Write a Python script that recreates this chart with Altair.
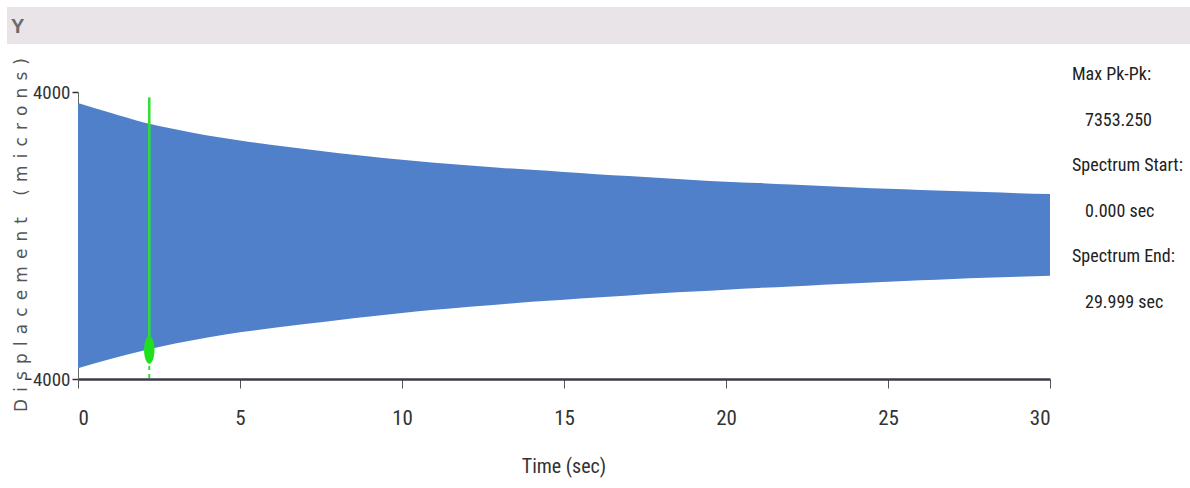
import altair as alt
import pandas as pd

# ---- data ----
time_s = list(range(0, 31))
upper_um = [3690, 3420, 3160, 2960, 2790, 2650, 2520, 2410, 2300, 2200, 2110,
            2030, 1960, 1890, 1830, 1770, 1710, 1660, 1600, 1550, 1500,
            1460, 1420, 1380, 1340, 1300, 1270, 1240, 1210, 1180, 1160]
lower_um = [-3700, -3440, -3210, -3010, -2840, -2700, -2580, -2470, -2360, -2260, -2160,
            -2070, -1990, -1920, -1850, -1790, -1730, -1670, -1610, -1560, -1510,
            -1460, -1420, -1370, -1330, -1290, -1250, -1210, -1180, -1150, -1120]

cursor_t = [2.2]
cursor_top = [3850]
cursor_val = [-3192]
axis_min = [-4000]

x_ticks = [0, 5, 10, 15, 20, 25, 30]
y_ticks = [-4000, 4000]

info_lines = ["Max Pk-Pk:", "7353.250", "Spectrum Start:", "0.000 sec",
              "Spectrum End:", "29.999 sec"]
info_indent = [False, True, False, True, False, True]

panel_title = "Y"
_sp = "\u00a0\u200a"
y_title = (_sp * 3).join(_sp.join(w) for w in ["Displacement", "(microns)"])
x_title = "Time (sec)"

# ---- layout ----
W, H = 972, 287
PAD_L, PAD_T = 78, 92
NARROW = "Liberation Sans Narrow, Roboto Condensed, Arial Narrow, Roboto, sans-serif"
BLUE = "#5080ca"
GREEN = "#2ee02e"

wave = pd.DataFrame({"t": time_s, "hi": upper_um, "lo": lower_um})
cur = pd.DataFrame({"t": cursor_t, "top": cursor_top, "v": cursor_val, "bot": axis_min})

xs = alt.Scale(domain=[0, 30], nice=False, zero=False)
ys = alt.Scale(domain=[-4000, 4000], nice=False, zero=False)

x_axis = alt.Axis(values=x_ticks, title=None, grid=False, domainColor="#3b3b4b",
                  domainWidth=2.5, tickColor="#555", tickSize=9, tickWidth=1,
                  labelFont=NARROW, labelFontSize=21, labelColor="#333",
                  labelPadding=19, format="d")
y_axis = alt.Axis(values=y_ticks, title=None, grid=False, domainColor="#666",
                  domainWidth=1, tickColor="#333", tickSize=6, tickWidth=1.5,
                  labelFont=NARROW, labelFontSize=19, labelColor="#333",
                  labelPadding=2, format="d")

area = alt.Chart(wave).mark_area(color=BLUE, opacity=1, interpolate="monotone").encode(
    x=alt.X("t:Q", scale=xs, axis=x_axis),
    y=alt.Y("hi:Q", scale=ys, axis=y_axis),
    y2="lo:Q",
)

cursor_line = alt.Chart(cur).mark_rule(color=GREEN, strokeWidth=2.5).encode(
    x=alt.X("t:Q", scale=xs), y=alt.Y("top:Q", scale=ys), y2="v:Q")
cursor_dash = alt.Chart(cur).mark_rule(color=GREEN, strokeWidth=2, strokeDash=[4, 4]).encode(
    x=alt.X("t:Q", scale=xs), y=alt.Y("v:Q", scale=ys), y2="bot:Q")
ellipse = "M0,-1 A0.38,1 0 1,1 0,1 A0.38,1 0 1,1 0,-1 Z"
cursor_dot = alt.Chart(cur).mark_point(shape=ellipse, filled=True, color="#1fe01f",
                                       opacity=1, size=750).encode(
    x=alt.X("t:Q", scale=xs), y=alt.Y("v:Q", scale=ys))

one = pd.DataFrame({"a": [0]})

title_bar = alt.Chart(one).mark_rect(color="#e8e4e8").encode(
    x=alt.value(7 - PAD_L), x2=alt.value(1190 - PAD_L),
    y=alt.value(7 - PAD_T), y2=alt.value(44 - PAD_T))
title_text = alt.Chart(one).mark_text(text=panel_title, font="Liberation Sans",
                                      fontSize=20, fontWeight="bold", color="#6a6a6a",
                                      align="left", baseline="middle").encode(
    x=alt.value(11 - PAD_L), y=alt.value(27 - PAD_T))

ytitle = alt.Chart(one).mark_text(text=y_title, font="DejaVu Sans", fontSize=17,
                                  color="#555", angle=270, align="center",
                                  baseline="middle").encode(
    x=alt.value(22 - PAD_L), y=alt.value(235 - PAD_T))
xtitle = alt.Chart(one).mark_text(text=x_title, font=NARROW, fontSize=20,
                                  color="#333", align="center",
                                  baseline="middle").encode(
    x=alt.value(564 - PAD_L), y=alt.value(467 - PAD_T))

info_layers = []
for i, (txt, ind) in enumerate(zip(info_lines, info_indent)):
    info_layers.append(
        alt.Chart(one).mark_text(text=txt, font=NARROW, fontSize=18, color="#222",
                                 align="left", baseline="middle").encode(
            x=alt.value((1085 if ind else 1072) - PAD_L),
            y=alt.value(75 + 45.5 * i - PAD_T)))

chart = alt.layer(
    title_bar, title_text, area, cursor_line, cursor_dash, cursor_dot,
    ytitle, xtitle, *info_layers
).properties(
    width=W, height=H,
    autosize=alt.AutoSizeParams(type="none"),
    padding={"left": PAD_L, "top": PAD_T, "right": 1190 - PAD_L - W, "bottom": 488 - PAD_T - H},
    background="white",
).configure_view(stroke=None)

chart.save("out.html", embed_options={"renderer": "svg", "actions": False})
